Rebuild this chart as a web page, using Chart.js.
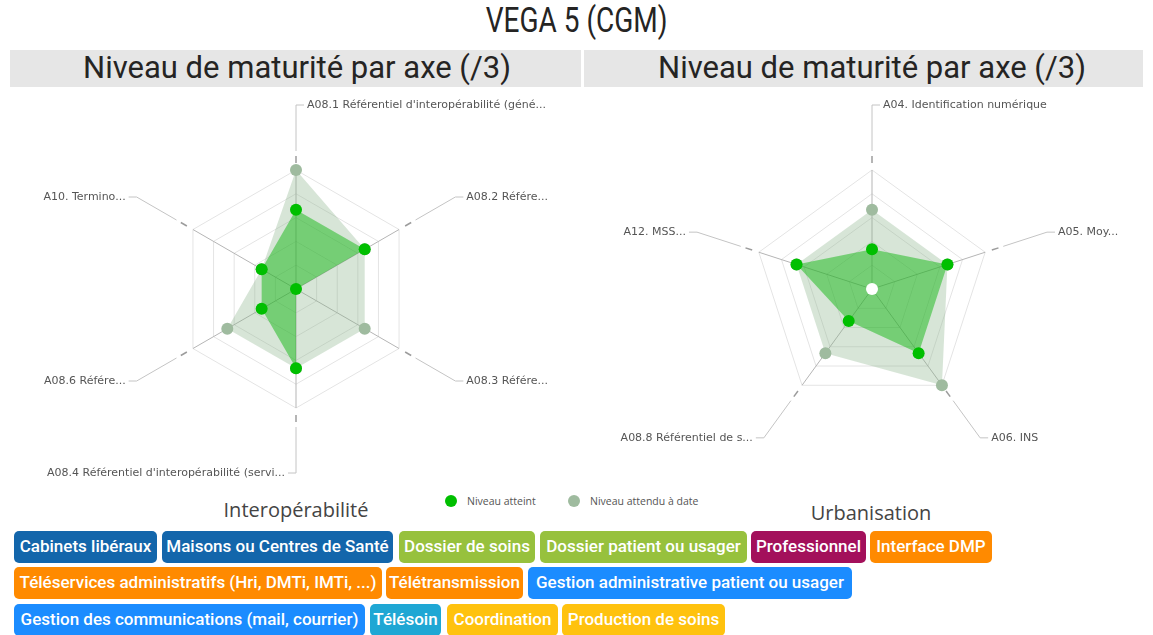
<!DOCTYPE html>
<html lang="fr">
<head>
<meta charset="utf-8">
<title>VEGA 5 (CGM)</title>
<script src="https://cdn.jsdelivr.net/npm/chart.js@4.4.0/dist/chart.umd.min.js"></script>
<style>
    html, body { margin: 0; padding: 0; background: #fff; }
    #page { position: relative; width: 1153px; height: 635px; overflow: hidden; font-family: Roboto, "Noto Sans", sans-serif; }
    #titre { position: absolute; left: 0; top: 1px; width: 1153px; text-align: center; font-size: 35px; line-height: 40px; color: #252423; }
    #titre span { display: inline-block; transform: scaleX(0.8); }
    .bande { position: absolute; top: 50px; height: 37px; background: #e6e6e6; }
    .sousTitre { position: absolute; top: 49px; width: 560px; text-align: center; font-size: 31px; line-height: 37px; color: #252423; }
    canvas { position: absolute; top: 90px; }
    .legende { position: absolute; top: 494px; font-family: "Open Sans", sans-serif; font-size: 10.5px; color: #555; line-height: 14px; }
    .rond { position: absolute; width: 12px; height: 12px; border-radius: 50%; top: 495px; }
    .groupe { position: absolute; top: 497px; width: 300px; text-align: center; font-family: "Open Sans", sans-serif; font-size: 20px; color: #444; line-height: 26px; }
    .tag { position: absolute; height: 32px; line-height: 31px; border-radius: 5px; color: #fff; font-size: 17px; font-weight: 500; text-align: center; white-space: nowrap; box-sizing: border-box; }
</style>
</head>
<body>
<div id="page">
    <div id="titre"><span>VEGA 5 (CGM)</span></div>

    <div class="bande" style="left:10px; width:571px;"></div>
    <div class="bande" style="left:584px; width:559px;"></div>
    <div class="sousTitre" style="left:17px;">Niveau de maturité par axe (/3)</div>
    <div class="sousTitre" style="left:592px;">Niveau de maturité par axe (/3)</div>

    <canvas id="radarInterop" width="580" height="400" style="left:0px;"></canvas>
    <canvas id="radarUrba" width="573" height="400" style="left:580px;"></canvas>

    <div class="rond" style="left:445px; background:#00bf00;"></div>
    <div class="legende" style="left:467px;">Niveau atteint</div>
    <div class="rond" style="left:568px; background:#9fbb9f;"></div>
    <div class="legende" style="left:590px;">Niveau attendu à date</div>

    <div class="groupe" style="left:146px;">Interopérabilité</div>
    <div class="groupe" style="left:721px; top:500px;">Urbanisation</div>

    <div id="tags"></div>
</div>

<script>
// --- DONNÉES ---
const etiquettesInterop = [
    "A08.1 Référentiel d'interopérabilité (géné...",
    "A08.2 Référe...",
    "A08.3 Référe...",
    "A08.4 Référentiel d'interopérabilité (servi...",
    "A08.6 Référe...",
    "A10. Termino..."
];
const atteintInterop = [2, 2, 0, 2, 1, 1];
const attenduInterop = [3, 2, 2, 2, 2, 1];

const etiquettesUrba = [
    "A04. Identification numérique",
    "A05. Moy...",
    "A06. INS",
    "A08.8 Référentiel de s...",
    "A12. MSS..."
];
const atteintUrba = [1, 2, 2, 1, 2];
const attenduUrba = [2, 2, 3, 2, 2];
const centreUrba = [0, null, null, null, null];

const niveauMax = 3;

// étiquettes en bas : texte, couleur, rang, gauche, largeur
const tags = [
    ["Cabinets libéraux", "#1366ab", 0, 14, 143],
    ["Maisons ou Centres de Santé", "#1366ab", 0, 162, 231],
    ["Dossier de soins", "#97c13d", 0, 399, 136],
    ["Dossier patient ou usager", "#97c13d", 0, 540, 207],
    ["Professionnel", "#a3105b", 0, 751, 115],
    ["Interface DMP", "#ff8a00", 0, 870, 122],
    ["Téléservices administratifs (Hri, DMTi, IMTi, ...)", "#ff8a00", 1, 14, 368],
    ["Télétransmission", "#ff8a00", 1, 386, 137],
    ["Gestion administrative patient ou usager", "#1b8cff", 1, 528, 324],
    ["Gestion des communications (mail, courrier)", "#1b8cff", 2, 14, 351],
    ["Télésoin", "#1fa7d4", 2, 370, 71],
    ["Coordination", "#ffc20e", 2, 447, 111],
    ["Production de soins", "#ffc20e", 2, 562, 163]
];

const VERT = '#00bf00';
const GRIS = '#9fbb9f';

// lignes de rappel + libellés des axes
const pluginRappels = {
    id: 'rappels',
    afterDatasetsDraw(chart) {
        const scale = chart.scales.r;
        const ctx = chart.ctx;
        const rayon = scale.drawingArea;
        ctx.save();
        chart.data.labels.forEach((txt, i) => {
            const a = scale.getPointPosition(i, rayon + 7);
            const b = scale.getPointPosition(i, rayon + 14);
            const c = scale.getPointPosition(i, rayon + 19);
            const d = scale.getPointPosition(i, rayon + 65);

            ctx.strokeStyle = '#9c9c9c';
            ctx.lineWidth = 1.5;
            ctx.beginPath();
            ctx.moveTo(a.x, a.y);
            ctx.lineTo(b.x, b.y);
            ctx.stroke();

            let sens = d.x > scale.xCenter + 1 ? 1 : -1;
            if (i === 0) sens = 1;

            ctx.strokeStyle = '#c4c4c4';
            ctx.lineWidth = 1;
            ctx.beginPath();
            ctx.moveTo(c.x, c.y);
            ctx.lineTo(d.x, d.y);
            ctx.lineTo(d.x + sens * 8, d.y);
            ctx.stroke();

            ctx.fillStyle = '#555';
            ctx.font = '11px "DejaVu Sans", sans-serif';
            ctx.textBaseline = 'middle';
            ctx.textAlign = sens > 0 ? 'left' : 'right';
            ctx.fillText(txt, d.x + sens * 11, d.y);
        });
        ctx.restore();
    }
};

function creerRadar(id, labels, datasets, padding) {
    return new Chart(document.getElementById(id), {
        type: 'radar',
        data: { labels: labels, datasets: datasets },
        options: {
            responsive: false,
            animation: false,
            layout: { padding: padding },
            elements: {
                line: { borderWidth: 0, tension: 0 },
                point: { radius: 6, borderWidth: 0, hoverRadius: 6 }
            },
            plugins: { legend: { display: false }, tooltip: { enabled: false } },
            scales: {
                r: {
                    min: 0,
                    max: niveauMax,
                    ticks: { display: false, count: 6 },
                    pointLabels: { display: false },
                    grid: { color: '#e4e4e4', lineWidth: 1 },
                    angleLines: { color: '#b5b5b5', lineWidth: 1 }
                }
            }
        },
        plugins: [pluginRappels]
    });
}

function serieAtteint(data) {
    return {
        label: 'Niveau atteint',
        data: data,
        fill: true,
        backgroundColor: 'rgba(0, 180, 0, 0.45)',
        pointBackgroundColor: VERT
    };
}

function serieAttendu(data) {
    return {
        label: 'Niveau attendu à date',
        data: data,
        fill: true,
        backgroundColor: 'rgba(140, 180, 140, 0.35)',
        pointBackgroundColor: GRIS
    };
}

creerRadar('radarInterop', etiquettesInterop,
    [serieAtteint(atteintInterop), serieAttendu(attenduInterop)],
    { left: 177, right: 165, top: 80, bottom: 82 });

creerRadar('radarUrba', etiquettesUrba,
    [{
        label: 'centre',
        data: centreUrba,
        fill: false,
        showLine: false,
        pointBackgroundColor: '#ffffff'
    }, serieAtteint(atteintUrba), serieAttendu(attenduUrba)],
    { left: 173, right: 162, top: 80, bottom: 82 });

// --- TAGS ---
const zoneTags = document.getElementById('tags');
const hautRang = [531, 567, 604];
tags.forEach(([txt, couleur, rang, x, w]) => {
    const el = document.createElement('div');
    el.className = 'tag';
    el.textContent = txt;
    el.style.background = couleur;
    el.style.left = x + 'px';
    el.style.top = hautRang[rang] + 'px';
    el.style.width = w + 'px';
    zoneTags.appendChild(el);
});
</script>
</body>
</html>
